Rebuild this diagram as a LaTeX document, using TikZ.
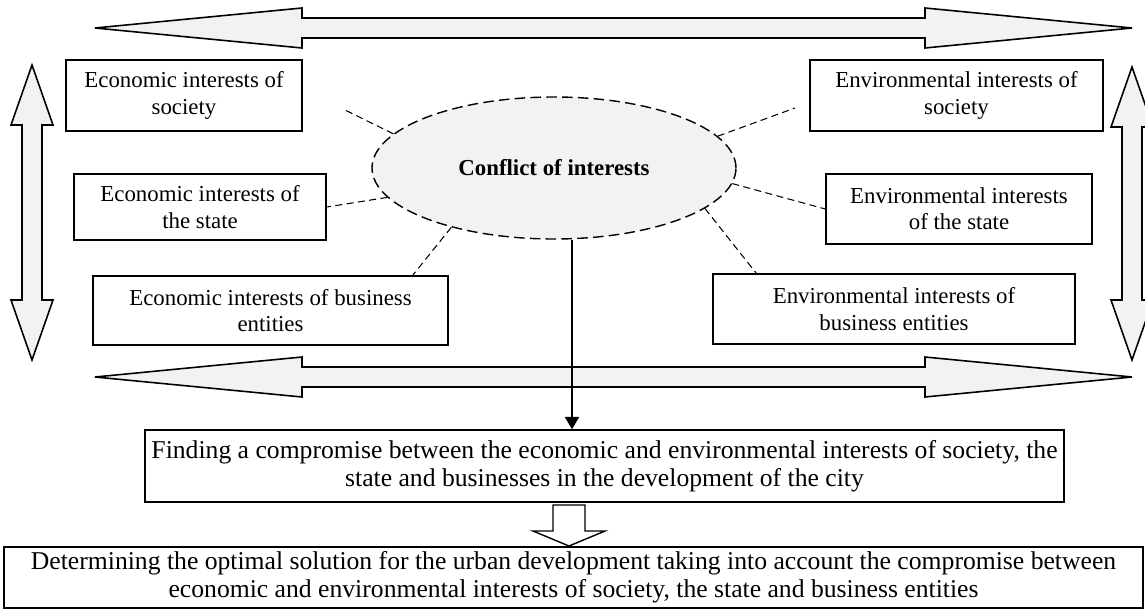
\documentclass[tikz,border=0pt]{standalone}
\usepackage{fontspec}
\setmainfont{Liberation Serif}
\usetikzlibrary{arrows.meta,positioning,shapes.geometric}

\begin{document}
\begin{tikzpicture}[
    font=\fontsize{13}{15}\selectfont,
    interest/.style={rectangle, draw, line width=0.8pt, align=center, inner sep=2pt},
    wide/.style={interest, font=\fontsize{14.6}{16}\selectfont},
    link/.style={dash pattern=on 4pt off 2.5pt, line width=0.6pt},
    bigarrow/.style={draw, line width=0.9pt, fill=gray!10, line join=miter},
    mainarrow/.style={-{Triangle[length=0.25cm,width=0.28cm]}, line width=1.5pt},
    ]
    \clip (0,0) rectangle (22.9,12.2);

    % Conflict in the middle
    \node [ellipse, draw, dash pattern=on 6pt off 3pt, line width=0.8pt, fill=gray!10,
           minimum width=7.28cm, minimum height=2.84cm] (conflict) at (11.08,8.84)
          {\textbf{Conflict of interests}};

    % Economic interests (left)
    \node [interest, minimum width=4.72cm, minimum height=1.42cm] (ecosoc) at (3.68,10.29)
          {Economic interests of\\society};
    \node [interest, minimum width=5.04cm, minimum height=1.32cm] (ecostate) at (4.00,8.06)
          {Economic interests of\\the state};
    \node [interest, minimum width=7.10cm, minimum height=1.38cm] (ecobus) at (5.41,5.99)
          {Economic interests of business\\entities};

    % Environmental interests (right)
    \node [interest, minimum width=5.86cm, minimum height=1.42cm] (envsoc) at (19.13,10.29)
          {Environmental interests of\\society};
    \node [interest, minimum width=5.32cm, minimum height=1.40cm] (envstate) at (19.18,8.02)
          {Environmental interests\\of the state};
    \node [interest, minimum width=7.24cm, minimum height=1.40cm] (envbus) at (17.88,6.02)
          {Environmental interests of\\business entities};

    % Dashed links
    \coordinate (ecosocend) at (6.86,10.02);
    \coordinate (envsocend) at (15.90,10.04);
    \draw [link] (conflict.168) -- (ecosocend);
    \draw [link] (conflict.190) -- (ecostate.east);
    \draw [link] (conflict.210) -- ([xshift=-0.72cm]ecobus.north east);
    \draw [link] (conflict.11) -- (envsocend);
    \draw [link] (conflict.355) -- (envstate.west);
    \draw [link] (conflict.345) -- ([xshift=0.88cm]envbus.north west);

    % Lower boxes
    \node [wide, minimum width=18.38cm, minimum height=1.44cm] (finding) at (12.09,2.88)
          {Finding a compromise between the economic and environmental interests of society, the\\
           state and businesses in the development of the city};
    \node [wide, minimum width=22.78cm, minimum height=1.22cm] (result) at (11.47,0.65)
          {Determining the optimal solution for the urban development taking into account the compromise between\\
           economic and environmental interests of society, the state and business entities};

    % Big double arrows
    \draw [bigarrow] (1.90,11.64) -- (6.04,12.04) -- (6.04,11.84) -- (18.50,11.84) -- (18.50,12.04)
        -- (22.64,11.64) -- (18.50,11.24) -- (18.50,11.44) -- (6.04,11.44) -- (6.04,11.24) -- cycle;
    \draw [bigarrow] (1.90,4.66) -- (6.04,5.06) -- (6.04,4.86) -- (18.50,4.86) -- (18.50,5.06)
        -- (22.64,4.66) -- (18.50,4.26) -- (18.50,4.46) -- (6.04,4.46) -- (6.04,4.26) -- cycle;
    \draw [bigarrow] (0.64,10.90) -- (1.06,9.70) -- (0.84,9.70) -- (0.84,6.20) -- (1.06,6.20)
        -- (0.64,5.00) -- (0.22,6.20) -- (0.44,6.20) -- (0.44,9.70) -- (0.22,9.70) -- cycle;
    \draw [bigarrow] (22.64,10.86) -- (23.06,9.66) -- (22.84,9.66) -- (22.84,6.20) -- (23.06,6.20)
        -- (22.64,5.00) -- (22.22,6.20) -- (22.44,6.20) -- (22.44,9.66) -- (22.22,9.66) -- cycle;

    % Main arrow (over the lower double arrow)
    \draw [mainarrow] ([xshift=0.36cm]conflict.south) -- ([xshift=0.36cm]conflict.south |- finding.north);

    % Hollow arrow between the lower boxes
    \draw [fill=white, line width=0.8pt] (11.06,2.10) -- (11.70,2.10) -- (11.70,1.58) -- (12.10,1.58)
        -- (11.38,1.28) -- (10.66,1.58) -- (11.06,1.58) -- cycle;

\end{tikzpicture}
\end{document}
